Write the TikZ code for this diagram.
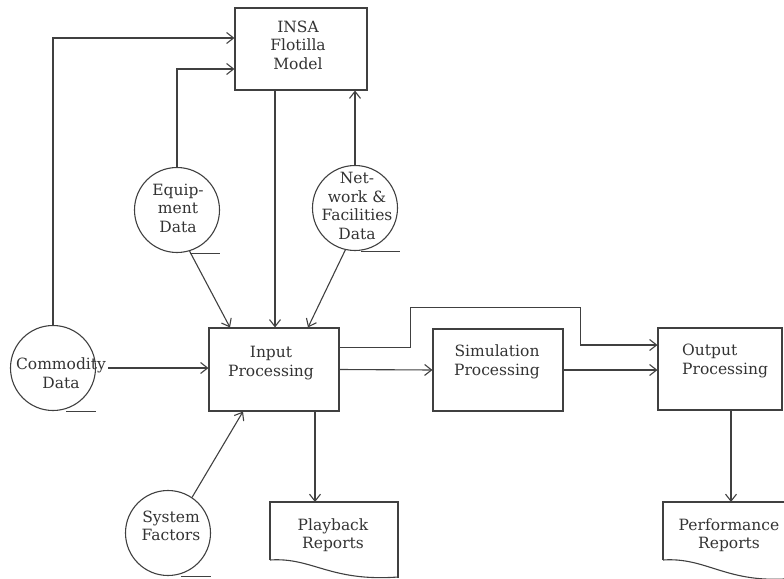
\documentclass[tikz,border=0pt]{standalone}
\usepackage{fontspec}
\setmainfont{DejaVu Serif}
\usetikzlibrary{arrows.meta}
\begin{document}
\begin{tikzpicture}[x=1pt,y=-1pt,
  ink/.style={draw=black!75, line width=1.1pt},
  flow/.style={ink, -{Straight Barb[length=7pt,width=11pt,line width=1.1pt]}},
  procbox/.style={ink, rectangle, inner sep=0pt},
  datacircle/.style={ink, circle, inner sep=0pt, minimum size=85pt},
  lbl/.style={text=black!80, align=center, inner sep=0pt,
              font=\fontsize{15.5}{18.5}\selectfont},
]
\useasboundingbox (0,0) rectangle (784,578);

% processing boxes
\node[procbox, minimum width=132pt, minimum height=82pt] (insa)   at (301,49)    {};
\node[procbox, minimum width=130pt, minimum height=83pt] (input)  at (274,369.5) {};
\node[procbox, minimum width=130pt, minimum height=82pt] (sim)    at (498,370)   {};
\node[procbox, minimum width=124pt, minimum height=82pt] (output) at (720,369)   {};

\node[lbl] (insatext)   at (298,45)  {INSA\\Flotilla\\Model};
\node[lbl] (inputtext)  at (271,363) {Input\\Processing};
\node[lbl] (simtext)    at (497,362) {Simulation\\Processing};
\node[lbl, align=left, anchor=west] (outputtext) at (682,361) {Output\\Processing};

% data sources
\node[datacircle] (equip)  at (177,210) {};
\node[datacircle] (net)    at (355,208) {};
\node[datacircle] (commod) at (53,368)  {};
\node[datacircle] (system) at (168,533) {};

\node[lbl] (equiptext)  at (178,208) {Equip-\\ment\\Data};
\node[lbl] (nettext)    at (357,206) {Net-\\work \&\\Facilities\\Data};
\node[lbl] (commodtext) at (61,373)  {Commodity\\Data};
\node[lbl] (systemtext) at (171,526) {System\\Factors};

% short rules under the data circles
\foreach \c in {equip, commod, system} {
  \draw[ink] ([xshift=13pt]\c.south) -- ([xshift=43pt]\c.south);
}
\draw[ink] ([xshift=6pt]net.south) -- ([xshift=45pt]net.south);

% report documents
\coordinate (pbtop) at (315,502);
\coordinate (pftop) at (731,502);
\draw[ink] (270,560) -- (270,502) -- (398,502) -- (398,578);
\draw[ink] (270,560) .. controls (312,557) and (330,582) .. (398,577);
\draw[ink] (663,560) -- (663,502) -- (784,502);
\draw[ink] (663,560) .. controls (705,557) and (725,582) .. (784,579);
\node[lbl] (pbtext) at (333,535) {Playback\\Reports};
\node[lbl] (pftext) at (729,535) {Performance\\Reports};

% connectors into the flotilla model
\draw[flow] (commod.north) |- ([yshift=11pt]insa.west);
\draw[flow] (equip.north)  |- ([yshift=-20pt]insa.west);
\draw[flow] (net.north) -- (net.north |- insa.south);

% connectors into input processing
\draw[flow] ([xshift=-26pt]insa.south) -- ([xshift=-26pt]insa.south |- input.north);
\draw[flow] (equip.-73)  -- ([xshift=-44pt]input.north);
\draw[flow] (net.-103)   -- ([xshift=34pt]input.north);
\draw[flow] ([xshift=55pt]commod.center) -- (input.west |- commod.center);
\draw[flow] (system.56)  -- ([xshift=-31pt]input.south);

% processing chain and reports
\draw[flow] ([xshift=41pt]input.south) -- (pbtop);
\draw[flow] ([yshift=22pt]input.east) -- ++(71,0) -- ++(0,-40) -- ++(170,0)
            |- ([yshift=24pt]output.west);
\draw[flow] (input.east) -- (sim.west);
\draw[flow] (sim.east) -- (sim.east -| output.west);
\draw[flow] ([xshift=11pt]output.south) -- (pftop);
\end{tikzpicture}
\end{document}
